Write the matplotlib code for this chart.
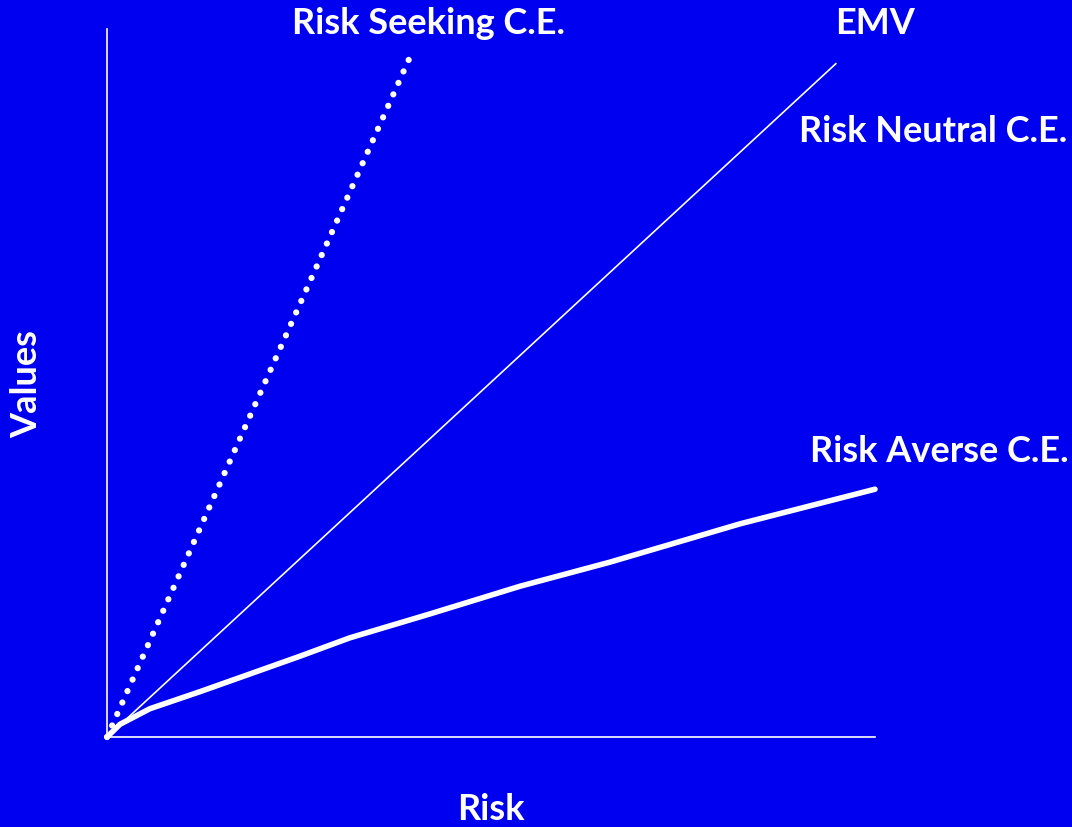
import matplotlib
matplotlib.use("Agg")
import matplotlib.pyplot as plt

# values (axes units 0..1)
seeking_x = [0.0, 0.398]
seeking_y = [0.0, 0.969]
emv_x = [0.0, 0.949]
emv_y = [0.0, 0.951]
averse_x = [0.0, 0.017, 0.056, 0.121, 0.186, 0.251, 0.316, 0.421, 0.538, 0.655, 0.824, 1.0]
averse_y = [0.0, 0.018, 0.040, 0.064, 0.089, 0.114, 0.140, 0.174, 0.213, 0.247, 0.301, 0.350]

BG = "#0000f0"
W, H = 1072, 828

fig = plt.figure(figsize=(W / 100, H / 100), dpi=100, facecolor=BG)
# axes box: x 107..875 px, y 30..738 px
ax = fig.add_axes([107 / W, 1 - 738 / H, (875 - 107) / W, (738 - 30) / H])
ax.set_facecolor(BG)
ax.set_xlim(0, 1)
ax.set_ylim(0, 1)
for s in ["top", "right"]:
    ax.spines[s].set_visible(False)
for s in ["left", "bottom"]:
    ax.spines[s].set_color("white")
    ax.spines[s].set_linewidth(1.2)
ax.set_xticks([])
ax.set_yticks([])

ax.plot(seeking_x, seeking_y, color="white", lw=4.5,
        linestyle=(0, (0.01, 2.0)), dash_capstyle="round", clip_on=False)
ax.plot(emv_x, emv_y, color="white", lw=1.2, clip_on=False)
ax.plot(averse_x, averse_y, color="white", lw=4, solid_capstyle="round",
        solid_joinstyle="round", clip_on=False)

font = dict(family="Lato", weight="bold", color="white", fontsize=26)

def label(px, py, txt, ha="center", **kw):
    fig.text(px / W, 1 - py / H, txt, ha=ha, va="center", **font, **kw)

label(429, 24, "Risk Seeking C.E.")
label(875, 24, "EMV")
label(799, 131, "Risk Neutral C.E.", ha="left")
label(810, 452, "Risk Averse C.E.", ha="left")
label(27, 384, "Values", rotation=90)
label(491, 810, "Risk")

fig.savefig("out.png", dpi=100, facecolor=BG)
